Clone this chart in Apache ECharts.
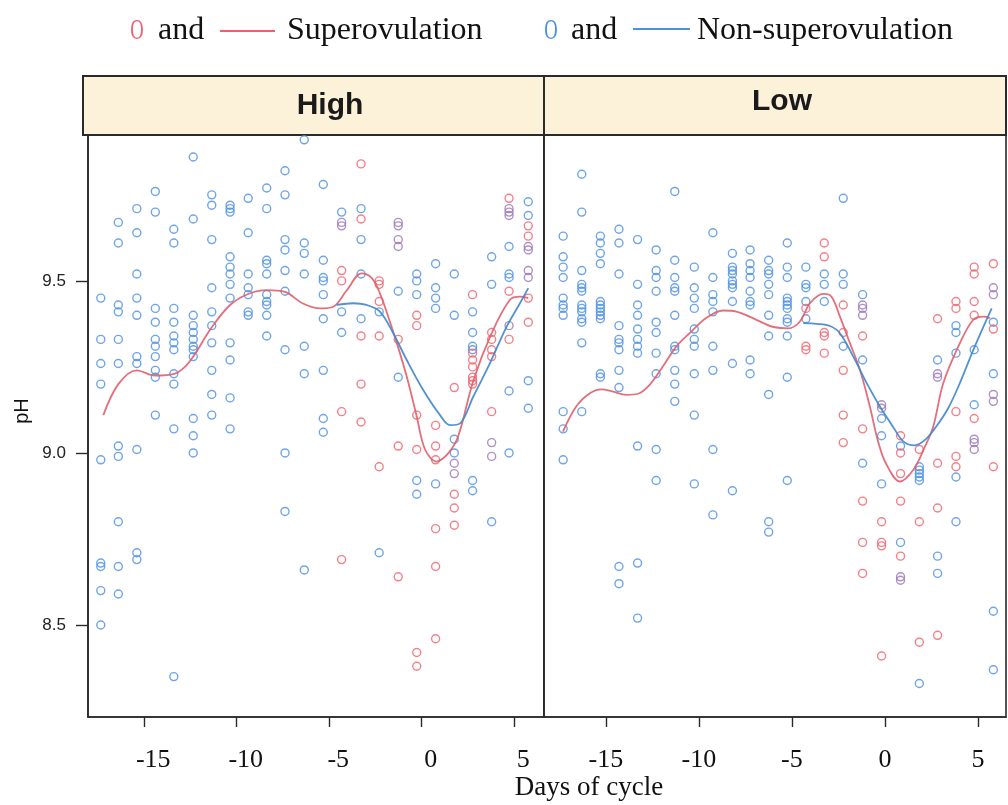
<!DOCTYPE html>
<html>
<head>
<meta charset="utf-8">
<script src="https://cdn.jsdelivr.net/npm/echarts@6/dist/echarts.min.js"></script>
<style>
  html, body { margin: 0; padding: 0; background: #fff; }
  #chart { width: 1008px; height: 805px; }
</style>
</head>
<body>
<div id="chart"></div>
<script>
// tick labels
const xTicks = [-15, -10, -5, 0, 5];
const yTicks = [8.5, 9.0, 9.5];

// points by day column: [day, [pH values]]
const highNon = [
  [-17.35, [9.45, 9.33, 9.26, 9.20, 8.98, 8.68, 8.67, 8.60, 8.50]],
  [-16.4, [9.67, 9.61, 9.43, 9.41, 9.33, 9.26, 9.02, 8.99, 8.80, 8.67, 8.59]],
  [-15.4, [9.71, 9.64, 9.52, 9.45, 9.40, 9.28, 9.26, 9.01, 8.71, 8.69]],
  [-14.4, [9.76, 9.70, 9.42, 9.38, 9.33, 9.31, 9.28, 9.24, 9.22, 9.11]],
  [-13.4, [9.65, 9.61, 9.42, 9.38, 9.34, 9.32, 9.30, 9.23, 9.20, 9.07, 8.35]],
  [-12.35, [9.86, 9.68, 9.40, 9.37, 9.35, 9.33, 9.31, 9.30, 9.28, 9.10, 9.05, 9.00]],
  [-11.35, [9.75, 9.72, 9.62, 9.48, 9.41, 9.37, 9.32, 9.24, 9.17, 9.11]],
  [-10.36, [9.72, 9.71, 9.70, 9.57, 9.54, 9.52, 9.49, 9.45, 9.32, 9.27, 9.16, 9.07]],
  [-9.38, [9.74, 9.64, 9.52, 9.48, 9.46, 9.41, 9.40]],
  [-8.38, [9.77, 9.71, 9.56, 9.55, 9.52, 9.46, 9.44, 9.43, 9.40, 9.34]],
  [-7.39, [9.82, 9.75, 9.62, 9.59, 9.53, 9.47, 9.30, 9.00, 8.83]],
  [-6.35, [9.91, 9.61, 9.58, 9.52, 9.31, 9.23, 8.66]],
  [-5.32, [9.78, 9.56, 9.51, 9.50, 9.46, 9.39, 9.24, 9.10, 9.06]],
  [-4.33, [9.70, 9.41, 9.35]],
  [-3.28, [9.71, 9.62, 9.52, 9.39]],
  [-2.3, [9.41, 8.71]],
  [-1.27, [9.47, 9.22]],
  [-0.27, [9.52, 9.50, 9.46, 8.92, 8.88]],
  [0.75, [9.55, 9.48, 9.45, 9.42, 8.91]],
  [1.76, [9.52, 9.40, 9.04, 9.00]],
  [2.75, [9.41, 9.35, 9.31, 9.30, 8.92, 8.89]],
  [3.78, [9.57, 9.49, 8.80]],
  [4.72, [9.60, 9.52, 9.51, 9.18, 9.00]],
  [5.76, [9.73, 9.69, 9.21, 9.13]]
];
const highSuper = [
  [-4.33, [9.53, 9.50, 9.12, 8.69]],
  [-3.28, [9.84, 9.68, 9.34, 9.20, 9.09]],
  [-2.3, [9.50, 9.49, 9.44, 9.34, 8.96]],
  [-1.27, [9.33, 9.02, 8.64]],
  [-0.27, [9.40, 9.37, 9.11, 9.01, 8.42, 8.38]],
  [0.75, [9.08, 9.02, 8.98, 8.78, 8.67, 8.46]],
  [1.76, [9.19, 8.88, 8.84, 8.79]],
  [2.75, [9.46, 9.29, 9.27, 9.25, 9.22, 9.21, 9.20]],
  [3.78, [9.35, 9.33, 9.30, 9.28, 9.12]],
  [4.72, [9.74, 9.47, 9.33]],
  [5.76, [9.66, 9.63, 9.45, 9.38]]
];
const highBoth = [
  [-4.33, [9.67, 9.66]],
  [-1.27, [9.67, 9.66, 9.62, 9.60]],
  [1.76, [8.97, 8.94]],
  [3.78, [9.03, 8.99]],
  [4.72, [9.71, 9.70, 9.69, 9.37]],
  [5.76, [9.60, 9.59, 9.53, 9.51]]
];
const lowNon = [
  [-17.3, [9.63, 9.57, 9.54, 9.51, 9.45, 9.43, 9.42, 9.40, 9.12, 9.07, 8.98]],
  [-16.3, [9.81, 9.70, 9.53, 9.49, 9.48, 9.47, 9.43, 9.42, 9.41, 9.39, 9.38, 9.32, 9.12]],
  [-15.3, [9.63, 9.61, 9.58, 9.55, 9.44, 9.43, 9.42, 9.41, 9.40, 9.39, 9.23, 9.22]],
  [-14.3, [9.65, 9.61, 9.52, 9.37, 9.33, 9.32, 9.30, 9.24, 9.19, 8.67, 8.62]],
  [-13.3, [9.62, 9.49, 9.43, 9.40, 9.36, 9.33, 9.31, 9.29, 9.02, 8.68, 8.52]],
  [-12.3, [9.59, 9.53, 9.51, 9.47, 9.38, 9.35, 9.29, 9.23, 9.01, 8.92]],
  [-11.3, [9.76, 9.56, 9.51, 9.48, 9.47, 9.40, 9.31, 9.30, 9.24, 9.20, 9.15]],
  [-10.25, [9.54, 9.48, 9.45, 9.42, 9.36, 9.33, 9.31, 9.23, 9.11, 8.91]],
  [-9.25, [9.64, 9.51, 9.46, 9.44, 9.41, 9.31, 9.24, 9.01, 8.82]],
  [-8.2, [9.58, 9.54, 9.53, 9.52, 9.50, 9.49, 9.48, 9.44, 9.26, 8.89]],
  [-7.25, [9.59, 9.55, 9.53, 9.51, 9.47, 9.44, 9.43, 9.27, 9.23]],
  [-6.25, [9.56, 9.53, 9.52, 9.49, 9.46, 9.40, 9.34, 9.17, 8.80, 8.77]],
  [-5.25, [9.61, 9.54, 9.51, 9.45, 9.44, 9.43, 9.42, 9.39, 9.38, 9.34, 9.22, 8.92]],
  [-4.25, [9.54, 9.49, 9.48, 9.44, 9.39]],
  [-3.26, [9.52, 9.49, 9.44]],
  [-2.24, [9.74, 9.52, 9.49, 9.31]],
  [-1.2, [9.46, 9.27, 8.97]],
  [-0.18, [9.10, 9.05, 8.91]],
  [0.84, [9.02, 8.74]],
  [1.85, [8.96, 8.95, 8.94, 8.93, 8.92, 8.33]],
  [2.83, [9.27, 8.70, 8.65]],
  [3.82, [9.37, 9.35, 9.29, 8.93, 8.80]],
  [4.8, [9.30, 9.14]],
  [5.83, [9.38, 9.23, 8.54, 8.37]]
];
const lowSuper = [
  [-4.25, [9.42, 9.31, 9.30]],
  [-3.26, [9.61, 9.57, 9.35, 9.34, 9.29]],
  [-2.24, [9.43, 9.35, 9.24, 9.11, 9.03]],
  [-1.2, [9.34, 9.07, 8.86, 8.74, 8.65]],
  [-0.18, [8.80, 8.74, 8.73, 8.41]],
  [0.84, [9.05, 9.00, 8.94, 8.86, 8.70]],
  [1.85, [9.01, 8.80, 8.45]],
  [2.83, [9.39, 8.97, 8.84, 8.47]],
  [3.82, [9.44, 9.42, 9.12, 8.99, 8.96]],
  [4.8, [9.54, 9.52, 9.44, 9.40, 9.10]],
  [5.83, [9.55, 9.36, 8.96]]
];
const lowBoth = [
  [-1.2, [9.43, 9.42, 9.40]],
  [-0.18, [9.14, 9.13]],
  [0.84, [8.64, 8.63]],
  [2.83, [9.23, 9.22]],
  [4.8, [9.04, 9.03, 9.01]],
  [5.83, [9.48, 9.46, 9.17, 9.15]]
];

// smoothed curves
const highSuperCurve = [[-17.21, 9.11], [-16.4, 9.20], [-15.41, 9.24], [-14.42, 9.225], [-13.37, 9.23], [-12.8, 9.25], [-12.35, 9.28], [-11.35, 9.365], [-10.36, 9.43], [-9.38, 9.462], [-8.38, 9.473], [-7.39, 9.468], [-6.45, 9.435], [-5.5, 9.42], [-4.78, 9.425], [-4.06, 9.472], [-3.25, 9.522], [-2.7, 9.508], [-2.26, 9.464], [-1.81, 9.396], [-1.35, 9.32], [-0.81, 9.222], [-0.27, 9.106], [0.18, 9.01], [0.81, 8.975], [1.45, 9.0], [1.98, 9.05], [2.79, 9.21], [3.78, 9.348], [4.77, 9.445], [5.31, 9.454], [5.76, 9.45]];
const highNonCurve = [[-4.6, 9.43], [-3.7, 9.435], [-2.98, 9.43], [-2.26, 9.411], [-1.54, 9.348], [-0.81, 9.27], [0.08, 9.183], [0.99, 9.11], [1.53, 9.081], [2.07, 9.086], [2.79, 9.164], [3.69, 9.261], [4.59, 9.367], [5.31, 9.435], [5.76, 9.479]];
const lowSuperCurve = [[-17.31, 9.062], [-16.6, 9.135], [-15.88, 9.173], [-15.25, 9.185], [-14.62, 9.178], [-13.91, 9.169], [-13.28, 9.172], [-12.65, 9.198], [-11.94, 9.251], [-11.22, 9.309], [-10.5, 9.348], [-9.61, 9.392], [-8.71, 9.414], [-7.99, 9.411], [-7.28, 9.396], [-6.56, 9.378], [-6.0, 9.366], [-5.2, 9.362], [-4.57, 9.382], [-4.03, 9.435], [-3.31, 9.462], [-2.87, 9.454], [-2.42, 9.396], [-1.88, 9.319], [-1.34, 9.241], [-0.81, 9.135], [-0.4, 9.04], [0.05, 8.97], [0.81, 8.917], [1.53, 8.951], [2.15, 9.018], [2.6, 9.077], [3.14, 9.203], [4.03, 9.319], [4.75, 9.387], [5.29, 9.396], [5.65, 9.392]];
const lowNonCurve = [[-4.39, 9.377], [-3.67, 9.375], [-2.96, 9.369], [-2.42, 9.348], [-1.7, 9.28], [-0.98, 9.203], [-0.27, 9.135], [0.45, 9.075], [1.0, 9.033], [1.6, 9.022], [2.2, 9.04], [2.8, 9.08], [3.4, 9.13], [4.03, 9.203], [4.75, 9.299], [5.74, 9.42]];

const RED = '#f0606c';
const BLUE = '#4a8fe2';
const PURPLE = '#9a74b6';
const SERIF = 'Liberation Serif';
const SANS = 'Liberation Sans';

const flat = (cols) => cols.flatMap(([d, vals]) => vals.map((v) => [d, v]));

const dom = document.getElementById('chart');
const myChart = echarts.init(dom, null, { renderer: 'canvas' });

const grids = [
  { left: 88, top: 135, width: 456, height: 582 },
  { left: 544, top: 135, width: 462, height: 582 }
].map((g) => ({ ...g, show: true, borderColor: '#2a2a2a', borderWidth: 1.6, backgroundColor: '#fff' }));

function xAxisFor(i, min, max, shift) {
  return {
    type: 'value', gridIndex: i, min, max,
    axisLine: { show: true, onZero: false, lineStyle: { color: '#2a2a2a', width: 1.6 } },
    axisTick: { show: true, customValues: xTicks, length: 10, lineStyle: { color: '#2a2a2a', width: 1.4 } },
    axisLabel: {
      customValues: xTicks, margin: 30, color: '#111',
      fontFamily: SERIF, fontSize: 26, padding: [0, 0, 0, shift],
      formatter: (v) => String(v)
    },
    splitLine: { show: false }
  };
}

function yAxisFor(i, labels) {
  return {
    type: 'value', gridIndex: i, min: 8.2326, max: 9.924,
    name: labels ? 'pH' : '', nameLocation: 'middle', nameGap: 56,
    nameTextStyle: { fontFamily: SANS, fontSize: 20, color: '#111', padding: [0, 0, 0, 30] },
    axisLine: { show: true, onZero: false, lineStyle: { color: '#2a2a2a', width: 1.6 } },
    axisTick: { show: labels, customValues: yTicks, length: 12, lineStyle: { color: '#2a2a2a', width: 1.4 } },
    axisLabel: {
      show: labels, customValues: yTicks, margin: 22, color: '#222',
      fontFamily: SANS, fontSize: 17, formatter: (v) => v.toFixed(1)
    },
    splitLine: { show: false }
  };
}

function pointSeries(name, i, data, color) {
  return {
    name, type: 'scatter', xAxisIndex: i, yAxisIndex: i, data,
    symbol: 'circle', symbolSize: 8, z: 3,
    itemStyle: { color: 'rgba(255,255,255,0)', borderColor: color, borderWidth: 1.4 },
    emphasis: { disabled: true }
  };
}

function curveSeries(name, i, data, color) {
  return {
    name, type: 'line', xAxisIndex: i, yAxisIndex: i, data,
    smooth: 0.35, showSymbol: false, symbol: 'none', z: 5,
    lineStyle: { color, width: 1.8, opacity: 0.9 }
  };
}

const seriesList = [
  pointSeries('High non', 0, flat(highNon), BLUE),
  pointSeries('High super', 0, flat(highSuper), RED),
  pointSeries('High both', 0, flat(highBoth), PURPLE),
  curveSeries('High super curve', 0, highSuperCurve, '#e05f6c'),
  curveSeries('High non curve', 0, highNonCurve, '#3f86cc'),
  pointSeries('Low non', 1, flat(lowNon), BLUE),
  pointSeries('Low super', 1, flat(lowSuper), RED),
  pointSeries('Low both', 1, flat(lowBoth), PURPLE),
  curveSeries('Low super curve', 1, lowSuperCurve, '#e05f6c'),
  curveSeries('Low non curve', 1, lowNonCurve, '#3f86cc')
];

// strips and the key
const legendText = (x, text, color, extra) => ({
  type: 'text', x, y: 31, z: 10,
  style: { text, fill: color, font: `32px "${SERIF}"`, textVerticalAlign: 'middle', ...extra }
});
const graphics = [
  { type: 'rect', shape: { x: 83, y: 76, width: 923, height: 59 }, z: 1,
    style: { fill: '#fcf1d9', stroke: '#2a2a2a', lineWidth: 2 } },
  { type: 'line', shape: { x1: 544, y1: 76, x2: 544, y2: 135 }, z: 2, style: { stroke: '#2a2a2a', lineWidth: 2 } },
  { type: 'text', x: 330, y: 106, z: 3, style: { text: 'High', font: `bold 30px "${SANS}"`, fill: '#1a1a1a', textAlign: 'center', textVerticalAlign: 'middle' } },
  { type: 'text', x: 782, y: 102, z: 3, style: { text: 'Low', font: `bold 30px "${SANS}"`, fill: '#1a1a1a', textAlign: 'center', textVerticalAlign: 'middle' } },
  { ...legendText(137, 'O', RED, { textAlign: 'center', font: `30px "${SERIF}"` }), scaleX: 0.62 },
  legendText(158, 'and', '#111'),
  { type: 'line', shape: { x1: 220, y1: 31, x2: 275, y2: 31 }, z: 10, style: { stroke: RED, lineWidth: 2 } },
  legendText(287, 'Superovulation', '#111'),
  { ...legendText(551, 'O', BLUE, { textAlign: 'center', font: `30px "${SERIF}"` }), scaleX: 0.62 },
  legendText(571, 'and', '#111'),
  { type: 'line', shape: { x1: 633, y1: 29, x2: 690, y2: 29 }, z: 10, style: { stroke: BLUE, lineWidth: 2 } },
  legendText(697, 'Non-superovulation', '#111'),
  { type: 'text', x: 589, y: 788, z: 10, style: { text: 'Days of cycle', font: `27px "${SERIF}"`, fill: '#111', textAlign: 'center', textVerticalAlign: 'middle' } }
];

const option = {
  animation: false,
  backgroundColor: '#fff',
  grid: grids,
  xAxis: [xAxisFor(0, -18.04, 6.61, 18), xAxisFor(1, -18.33, 6.51, 0)],
  yAxis: [yAxisFor(0, true), yAxisFor(1, false)],
  graphic: graphics,
  series: seriesList
};

myChart.setOption(option);
</script>
</body>
</html>
